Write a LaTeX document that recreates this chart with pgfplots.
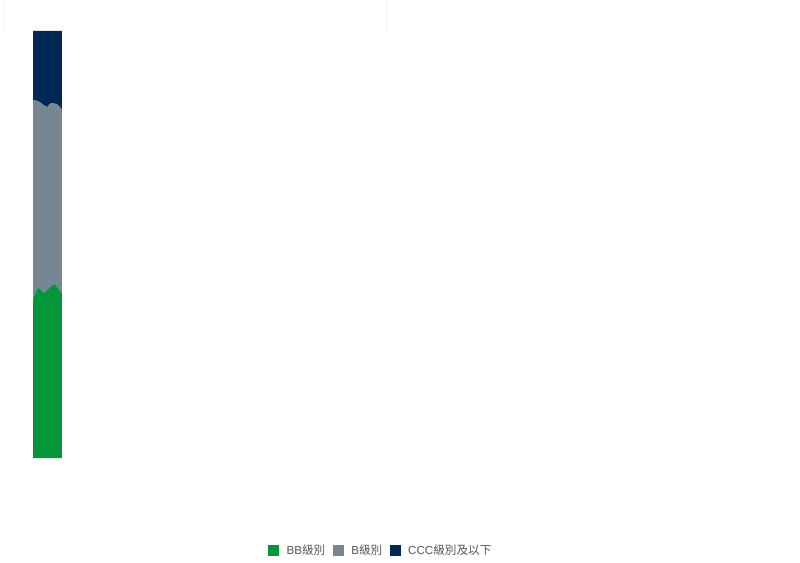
\documentclass[border=0pt]{standalone}
\usepackage{pgfplots}
\pgfplotsset{compat=1.18}
\usepackage{fontspec}
\setmainfont{Liberation Sans}
\newfontfamily\cjk{Noto Sans CJK TC}
\definecolor{bbgreen}{RGB}{0,150,57}
\definecolor{bgray}{RGB}{118,134,146}
\definecolor{cccnavy}{RGB}{0,40,85}
\definecolor{legtext}{RGB}{85,85,85}
\begin{document}
\begin{tikzpicture}
% page frame, 800 x 558 px at 0.75pt per px
\path (0pt,0pt) rectangle (600pt,418.5pt);
\fill[black!2] (2.25pt,396pt) rectangle (3.75pt,418.5pt);
\fill[black!2] (288.75pt,394.5pt) rectangle (291pt,418.5pt);
\begin{axis}[
			at={(24.75pt,75pt)}, anchor=south west,
			scale only axis,
			width=21.75pt, height=320.25pt,
			xmin=0, xmax=14, ymin=0, ymax=100,
			axis lines=none,
			ticks=none,
			stack plots=y,
			area style,
			legend columns=3,
			legend style={at={(12.0,-0.218)}, anchor=center, draw=none, fill=none,
				font=\fontsize{8.7pt}{10pt}\selectfont\color{legtext},
				/tikz/every even column/.append style={column sep=3.5pt}},
			legend image code/.code={\fill[#1] (0pt,-4pt) rectangle (8.25pt,4.25pt);
				\path (12pt,0pt);},
			]
\addplot[fill=bbgreen, draw=none] coordinates {
(0,37.2) (1,38.4) (2,39.6) (3,39.8) (4,39.3) (5,38.6) (6,38.9) (7,39.3)
(8,39.8) (9,40.3) (10,40.7) (11,40.5) (12,39.8) (13,39.1) (14,38.6)} \closedcycle;
\addlegendentry{BB{\cjk 級別}}
\addplot[fill=bgray, draw=none] coordinates {
(0,46.6) (1,45.4) (2,44.0) (3,43.6) (4,43.8) (5,44.1) (6,43.5) (7,42.9)
(8,43.1) (9,42.8) (10,42.4) (11,42.4) (12,42.9) (13,43.1) (14,42.9)} \closedcycle;
\addlegendentry{B{\cjk 級別}}
\addplot[fill=cccnavy, draw=none] coordinates {
(0,16.2) (1,16.2) (2,16.4) (3,16.6) (4,16.9) (5,17.3) (6,17.6) (7,17.8)
(8,17.1) (9,16.9) (10,16.9) (11,17.1) (12,17.3) (13,17.8) (14,18.5)} \closedcycle;
\addlegendentry{CCC{\cjk 級別及以下}}
\end{axis}
\end{tikzpicture}
\end{document}
